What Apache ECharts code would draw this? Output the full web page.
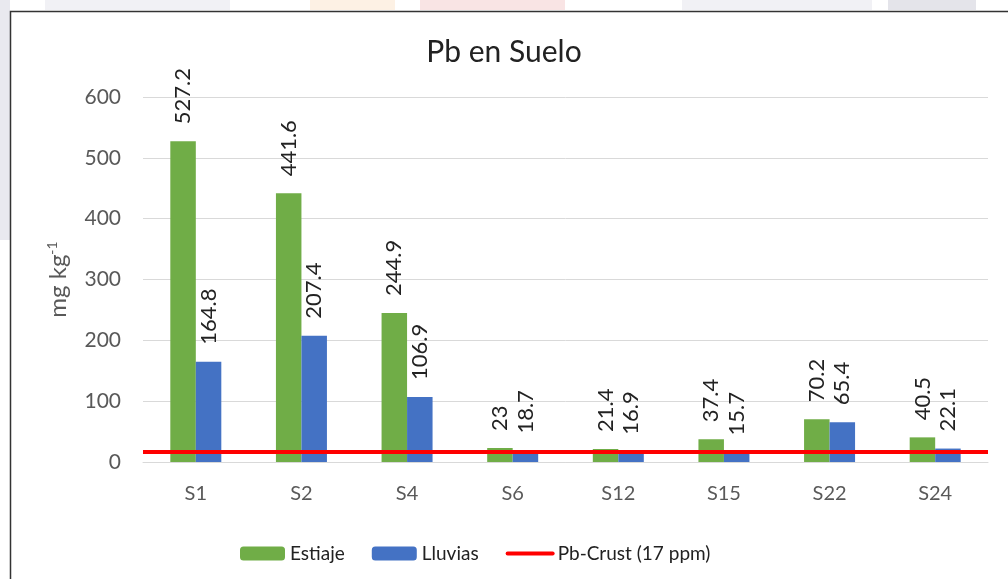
<!DOCTYPE html>
<html>
<head>
<meta charset="utf-8">
<script src="https://cdn.jsdelivr.net/npm/echarts@6/dist/echarts.min.js"></script>
<style>
  html, body { margin: 0; padding: 0; background: #fff; }
  #main { width: 1008px; height: 579px; }
</style>
</head>
<body>
<div id="main"></div>
<script>
var sites = ['S1', 'S2', 'S4', 'S6', 'S12', 'S15', 'S22', 'S24'];
var estiaje = [527.2, 441.6, 244.9, 23, 21.4, 37.4, 70.2, 40.5];
var lluvias = [164.8, 207.4, 106.9, 18.7, 16.9, 15.7, 65.4, 22.1];
var crustValue = 17;
var yTicks = [0, 100, 200, 300, 400, 500, 600];

var font = 'Lato, "Open Sans", sans-serif';

var myChart = echarts.init(document.getElementById('main'));

function barLabel() {
    return {
        show: true,
        position: 'top',
        rotate: 90,
        align: 'left',
        verticalAlign: 'middle',
        distance: 17,
        fontFamily: font,
        fontSize: 22,
        color: '#222'
    };
}

var option = {
    backgroundColor: '#fff',
    animation: false,
    // faint page blocks outside the chart frame + the frame itself
    graphic: [
        { type: 'rect', shape: { x: 0, y: 0, width: 10, height: 240 }, style: { fill: '#e9e9ef' }, z: -10 },
        { type: 'rect', shape: { x: 45, y: 0, width: 185, height: 10 }, style: { fill: '#f1f1f5' }, z: -10 },
        { type: 'rect', shape: { x: 310, y: 0, width: 85, height: 10 }, style: { fill: '#fdf1e4' }, z: -10 },
        { type: 'rect', shape: { x: 420, y: 0, width: 145, height: 10 }, style: { fill: '#f9e4e4' }, z: -10 },
        { type: 'rect', shape: { x: 682, y: 0, width: 190, height: 10 }, style: { fill: '#f1f1f5' }, z: -10 },
        { type: 'rect', shape: { x: 888, y: 0, width: 88, height: 10 }, style: { fill: '#e4e4ea' }, z: -10 },
        { type: 'polyline', shape: { points: [[10.5, 579], [10.5, 11.5], [1008, 11.5]] },
          style: { stroke: '#333', lineWidth: 1.5, fill: null }, z: 10 }
    ],
    title: {
        text: 'Pb en Suelo',
        left: 'center',
        top: 32,
        textStyle: { fontFamily: font, fontSize: 30, fontWeight: 'normal', color: '#222' }
    },
    legend: {
        left: 235,
        top: 539,
        itemWidth: 45,
        itemHeight: 14,
        itemGap: 27,
        textStyle: { fontFamily: font, fontSize: 19, color: '#222' },
        data: [
            'Estiaje',
            'Lluvias',
            { name: 'Pb-Crust (17 ppm)', itemStyle: { opacity: 0 }, lineStyle: { width: 4, cap: 'round' } }
        ]
    },
    grid: { left: 143, right: 20, top: 97, bottom: 117 },
    xAxis: {
        type: 'category',
        data: sites,
        axisLine: { lineStyle: { color: '#d9d9d9', width: 1 } },
        axisTick: { show: false },
        axisLabel: { fontFamily: font, fontSize: 20, color: '#595959', margin: 22 }
    },
    yAxis: {
        type: 'value',
        min: yTicks[0],
        max: yTicks[yTicks.length - 1],
        interval: 100,
        name: 'mg kg{s|-1}',
        nameLocation: 'middle',
        nameRotate: 90,
        nameGap: 72,
        nameTextStyle: {
            fontFamily: font,
            fontSize: 24,
            color: '#595959',
            rich: {
                s: { fontFamily: font, fontSize: 14, color: '#595959', verticalAlign: 'top', padding: [0, 0, 12, 0] }
            }
        },
        axisLine: { show: false },
        axisTick: { show: false },
        axisLabel: { fontFamily: font, fontSize: 21, color: '#595959', margin: 22 },
        splitLine: { lineStyle: { color: '#d9d9d9', width: 1 } }
    },
    series: [
        {
            name: 'Estiaje',
            type: 'bar',
            data: estiaje,
            barWidth: 25.5,
            barGap: 0,
            itemStyle: { color: '#70ad47' },
            label: barLabel()
        },
        {
            name: 'Lluvias',
            type: 'bar',
            data: lluvias,
            barWidth: 25.5,
            itemStyle: { color: '#4472c4' },
            label: barLabel()
        },
        {
            name: 'Pb-Crust (17 ppm)',
            type: 'line',
            data: [],
            symbol: 'none',
            z: 5,
            itemStyle: { color: '#ff0000' },
            lineStyle: { color: '#ff0000', width: 4 },
            markLine: {
                silent: true,
                symbol: ['none', 'none'],
                label: { show: false },
                lineStyle: { color: '#ff0000', width: 4, type: 'solid' },
                data: [{ yAxis: crustValue }]
            }
        }
    ]
};

myChart.setOption(option);
</script>
</body>
</html>
